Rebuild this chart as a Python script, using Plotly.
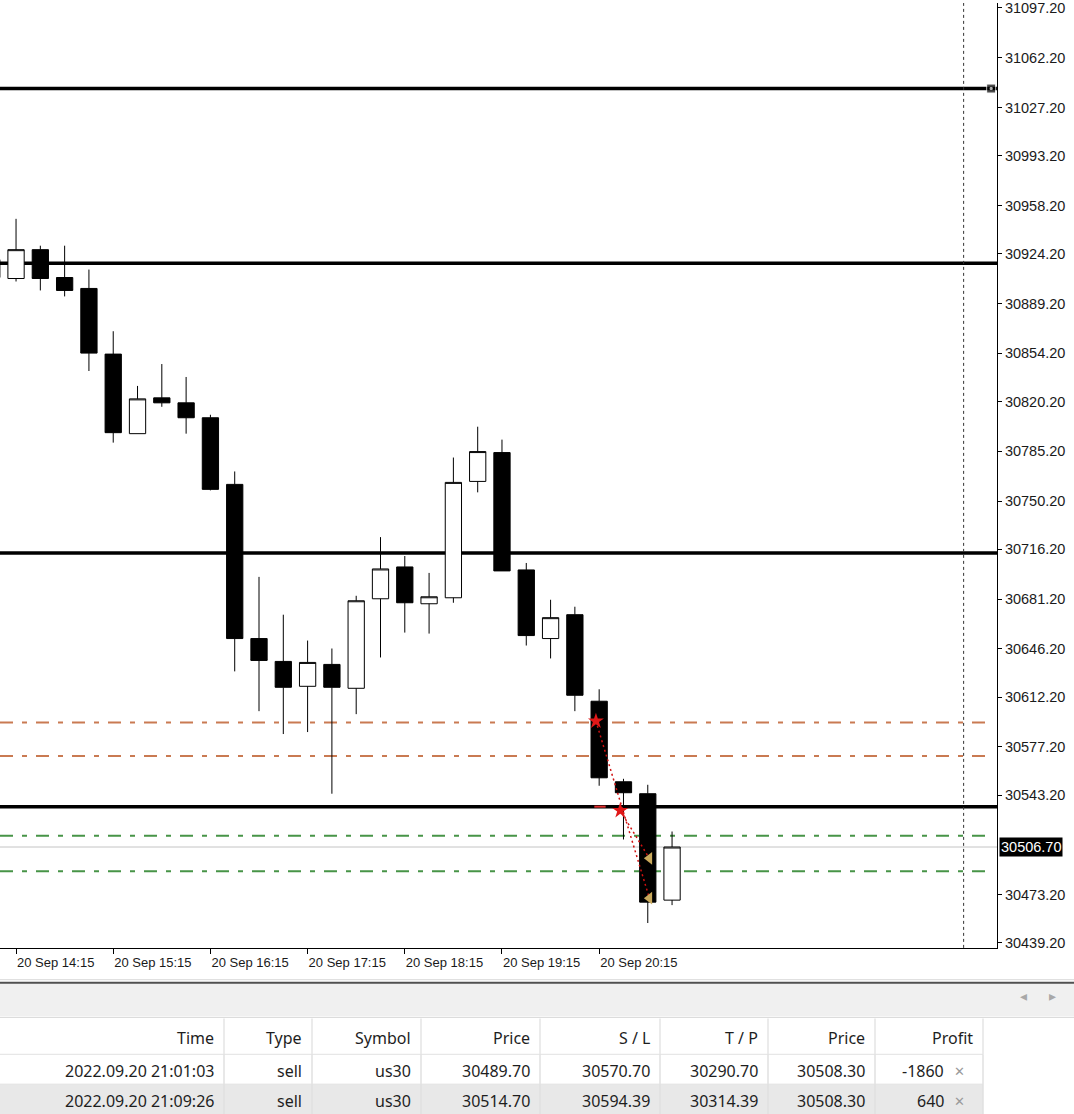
import pandas as pd
import plotly.graph_objects as go

W, H = 1074, 1114

# us30, M15 bars on 20 Sep 2022
bar_time = pd.date_range("2022-09-20 14:00", periods=29, freq="15min")
open_ = [30907.5, 30906.8, 30927.1, 30907.5, 30899.8, 30853.6, 30797.6, 30822.8, 30819.3, 30808.8,
         30761.9, 30653.4, 30637.3, 30619.8, 30635.2, 30618.4, 30681.4, 30703.8, 30677.9, 30682.1,
         30764.0, 30784.3, 30701.7, 30653.4, 30670.2, 30609.3, 30552.6, 30544.2, 30469.3]
high = [30925.7, 30948.8, 30929.9, 30929.9, 30913.1, 30869.7, 30831.2, 30846.6, 30837.5, 30810.9,
        30771.0, 30696.8, 30670.2, 30652.0, 30646.4, 30683.5, 30724.8, 30711.5, 30699.6, 30780.8,
        30802.5, 30793.4, 30706.6, 30680.7, 30675.8, 30617.7, 30554.7, 30550.5, 30517.6]
low = [30904.7, 30904.7, 30898.4, 30894.2, 30841.7, 30791.3, 30797.6, 30816.5, 30797.6, 30757.7,
       30630.3, 30602.3, 30586.2, 30587.6, 30544.2, 30600.2, 30640.1, 30657.6, 30656.9, 30678.6,
       30756.3, 30701.0, 30648.5, 30639.4, 30602.3, 30549.8, 30512.0, 30453.2, 30465.8]
close = [30920.1, 30927.1, 30906.8, 30898.4, 30854.3, 30798.3, 30822.1, 30819.3, 30808.8, 30758.4,
         30653.4, 30638.0, 30619.1, 30636.6, 30619.1, 30680.0, 30702.4, 30678.6, 30682.8, 30763.3,
         30785.0, 30701.0, 30655.5, 30668.1, 30613.5, 30555.4, 30544.9, 30467.9, 30506.7]

# levels
hlines = [31040.5, 30917.5, 30713.6, 30535.1]
sl_levels = [30594.39, 30570.70]
entry_levels = [30514.70, 30489.70]
bid = 30506.70

# deal arrows
open_time = ["2022-09-20 20:13", "2022-09-20 20:28"]
open_price = [30595.3, 30532.3]
close_time = ["2022-09-20 20:46", "2022-09-20 20:46"]
close_price = [30470.7, 30498.7]

price_ticks = [31097.20, 31062.20, 31027.20, 30993.20, 30958.20, 30924.20, 30889.20, 30854.20,
               30820.20, 30785.20, 30750.20, 30716.20, 30681.20, 30646.20, 30612.20, 30577.20,
               30543.20, 30473.20, 30439.20]
time_ticks = ["2022-09-20 14:15", "2022-09-20 15:15", "2022-09-20 16:15", "2022-09-20 17:15",
              "2022-09-20 18:15", "2022-09-20 19:15", "2022-09-20 20:15"]
time_labels = ["20 Sep 14:15", "20 Sep 15:15", "20 Sep 16:15", "20 Sep 17:15",
               "20 Sep 18:15", "20 Sep 19:15", "20 Sep 20:15"]
day_sep = "2022-09-21 00:00"

# trade table
col_names = ["Time", "Type", "Symbol", "Price", "S / L", "T / P", "Price", "Profit"]
trade_time = ["2022.09.20 21:01:03", "2022.09.20 21:09:26"]
trade_type = ["sell", "sell"]
trade_symbol = ["us30", "us30"]
trade_price = ["30489.70", "30514.70"]
trade_sl = ["30570.70", "30594.39"]
trade_tp = ["30290.70", "30314.39"]
trade_cur = ["30508.30", "30508.30"]
trade_profit = ["-1860", "640"]
col_edges = [0, 224, 312, 421, 540, 660, 768, 875, 983]
row_edges = [1020, 1057, 1087, 1117]


def py(px):  # pixel row -> paper y
    return 1 - px / H


def pxx(px):
    return px / W


fig = go.Figure()

fig.add_trace(go.Candlestick(
    x=bar_time, open=open_, high=high, low=low, close=close,
    increasing=dict(fillcolor="white", line=dict(color="black", width=1)),
    decreasing=dict(fillcolor="black", line=dict(color="black", width=1)),
    whiskerwidth=0, hoverinfo="skip",
))

# dotted deal lines
for i in range(2):
    fig.add_trace(go.Scatter(
        x=[open_time[i], close_time[i]], y=[open_price[i], close_price[i]],
        mode="lines", line=dict(color="#d01010", width=1.5, dash="2px,3px"), hoverinfo="skip"))
fig.add_trace(go.Scatter(
    x=["2022-09-20 20:12", "2022-09-20 20:19"], y=[hlines[3], hlines[3]],
    mode="lines", line=dict(color="#e03030", width=2), hoverinfo="skip"))
fig.add_trace(go.Scatter(
    x=close_time, y=close_price, mode="markers",
    marker=dict(symbol="triangle-left", size=11, color="#c9a95c"), hoverinfo="skip"))
fig.add_trace(go.Scatter(
    x=open_time, y=open_price, mode="markers",
    marker=dict(symbol="star", size=12, color="#e01818"), hoverinfo="skip"))
# selected line anchor
fig.add_trace(go.Scatter(
    x=["2022-09-21 00:17", "2022-09-21 00:17"], y=[hlines[0], hlines[0]], mode="markers",
    marker=dict(symbol="square", size=[9, 2], color=["black", "white"]), hoverinfo="skip"))

for lv in hlines:
    fig.add_shape(type="line", xref="x domain", x0=0, x1=1, yref="y", y0=lv, y1=lv,
                  line=dict(color="black", width=3.5), layer="below")
for lv in sl_levels:
    fig.add_shape(type="line", xref="x domain", x0=0, x1=0.991, yref="y", y0=lv, y1=lv,
                  line=dict(color="#c97a52", width=2, dash="13px,9px,5px,9px"), layer="below")
for lv in entry_levels:
    fig.add_shape(type="line", xref="x domain", x0=0, x1=0.991, yref="y", y0=lv, y1=lv,
                  line=dict(color="#479447", width=2, dash="13px,9px,5px,9px"), layer="below")
fig.add_shape(type="line", xref="x domain", x0=0, x1=1, yref="y", y0=bid, y1=bid,
              line=dict(color="#c4c4c4", width=1), layer="below")
fig.add_shape(type="line", xref="x", x0=day_sep, x1=day_sep, yref="y domain", y0=0, y1=1,
              line=dict(color="#333333", width=1, dash="3px,3px"), layer="below")

fig.add_annotation(xref="paper", x=pxx(999), yref="y", y=bid, text="30506.70",
                   showarrow=False, xanchor="left", yanchor="middle", bgcolor="black", borderpad=1,
                   font=dict(family="Liberation Sans", size=14.5, color="white"))

# bottom panel: separators, toolbar band
fig.add_shape(type="line", xref="paper", yref="paper", x0=0, x1=1, y0=py(982), y1=py(982),
              line=dict(color="#d8d8d8", width=1))
fig.add_shape(type="rect", xref="paper", yref="paper", x0=0, x1=1, y0=py(1019), y1=py(985),
              fillcolor="#f0f0f0", line=dict(width=0))
fig.add_shape(type="line", xref="paper", yref="paper", x0=0, x1=1, y0=py(985), y1=py(985),
              line=dict(color="#505050", width=2))
fig.add_shape(type="line", xref="paper", yref="paper", x0=0, x1=1, y0=py(1020), y1=py(1020),
              line=dict(color="#dcdcdc", width=1))
for xa, arrow in [(1029, "◂"), (1058, "▸")]:
    fig.add_annotation(xref="paper", yref="paper", x=pxx(xa), y=py(998), text=arrow,
                       showarrow=False, yanchor="middle",
                       font=dict(family="DejaVu Sans", size=14, color="#a8a8a8"))

# trade table, drawn cell by cell
table_font = dict(family="Noto Sans", size=16, color="#1e1e1e")
rows = [trade_time, trade_type, trade_symbol, trade_price, trade_sl, trade_tp, trade_cur, trade_profit]
fig.add_shape(type="rect", xref="paper", yref="paper", x0=0, x1=pxx(col_edges[-1]),
              y0=py(row_edges[3]), y1=py(row_edges[2]), fillcolor="#e8e8e8", line=dict(width=0))
for r in row_edges[1:3]:
    fig.add_shape(type="line", xref="paper", yref="paper", x0=0, x1=pxx(col_edges[-1]),
                  y0=py(r), y1=py(r), line=dict(color="#e2e2e2", width=1))
for c in col_edges[1:]:
    fig.add_shape(type="line", xref="paper", yref="paper", x0=pxx(c), x1=pxx(c),
                  y0=py(row_edges[0] + 1), y1=py(row_edges[1]), line=dict(color="#e4e4e4", width=1.5))
    fig.add_shape(type="line", xref="paper", yref="paper", x0=pxx(c), x1=pxx(c),
                  y0=py(row_edges[3]), y1=py(row_edges[1]), line=dict(color="#e0e0e0", width=1.5))
for j, name in enumerate(col_names):
    fig.add_annotation(xref="paper", yref="paper", x=pxx(col_edges[j + 1] - 8),
                       y=py((row_edges[0] + row_edges[1]) / 2 + 2), text=name, showarrow=False,
                       xanchor="right", yanchor="middle", font=table_font)
    for i in range(2):
        right = col_edges[j + 1] - (37 if j == 7 else 8)
        fig.add_annotation(xref="paper", yref="paper", x=pxx(right),
                           y=py((row_edges[i + 1] + row_edges[i + 2]) / 2 + 2), text=rows[j][i],
                           showarrow=False, xanchor="right", yanchor="middle", font=table_font)
for i in range(2):
    fig.add_annotation(xref="paper", yref="paper", x=pxx(967),
                       y=py((row_edges[i + 1] + row_edges[i + 2]) / 2 + 2), text="✕", showarrow=False,
                       yanchor="middle", font=dict(family="DejaVu Sans", size=13, color="#9a9a9a"))

fig.update_layout(
    width=W, height=H, margin=dict(l=0, r=0, t=0, b=0),
    paper_bgcolor="white", plot_bgcolor="white", showlegend=False,
    boxgap=0.33, boxgroupgap=0,
    xaxis=dict(domain=[0, 997 / W], range=["2022-09-20 14:05:06", "2022-09-21 00:20:36"],
               rangeslider=dict(visible=False), showgrid=False, zeroline=False,
               showline=True, linecolor="black", linewidth=1,
               ticks="outside", ticklen=5, tickcolor="black",
               tickvals=time_ticks, ticktext=time_labels, ticklabelposition="outside right",
               ticklabeloverflow="allow", ticklabelstandoff=3,
               tickfont=dict(family="Liberation Sans", size=13, color="#1a1a1a")),
    yaxis=dict(domain=[py(950), 1], range=[30435.7, 31100.7], side="right",
               showgrid=False, zeroline=False, showline=True, linecolor="black", linewidth=1,
               ticks="outside", ticklen=4, tickcolor="black", ticklabeloverflow="allow",
               tickvals=price_ticks, ticktext=[f"{v:.2f}" for v in price_ticks],
               tickfont=dict(family="Liberation Sans", size=14.5, color="#1a1a1a")),
)

fig.write_html("out.html", config={"displayModeBar": False},
               post_script="document.body.style.margin='0';")
